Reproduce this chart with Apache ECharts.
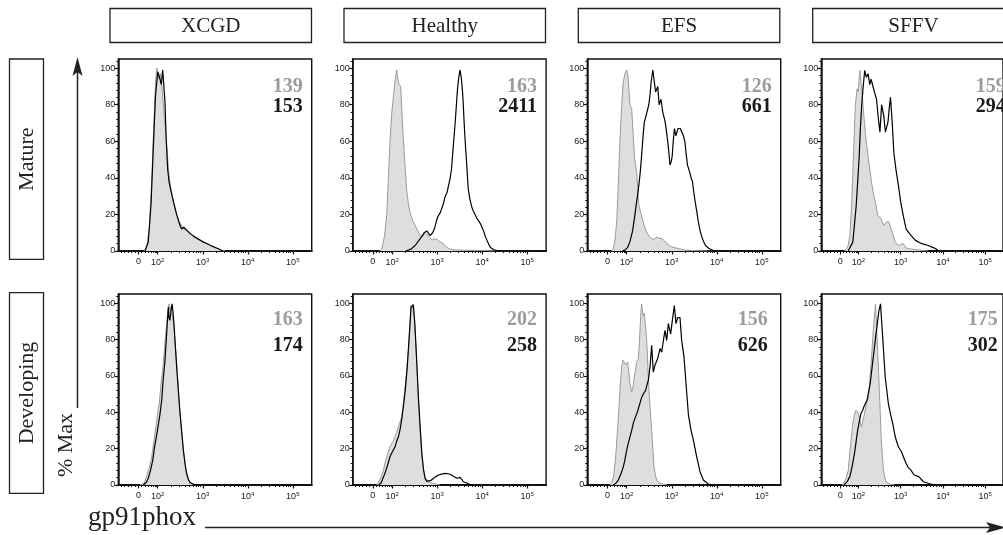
<!DOCTYPE html>
<html>
<head>
<meta charset="utf-8">
<script src="https://cdn.jsdelivr.net/npm/echarts@6/dist/echarts.min.js"></script>
<style>
html, body { margin: 0; padding: 0; background: #fff; }
#draw { width: 1003px; height: 535px; }
</style>
</head>
<body>
<div id="draw"></div>
<script>
// flow histograms, gp91phox, x in display decades (2 = 10^2, 1.57 = 0)
var columns = ['XCGD', 'Healthy', 'EFS', 'SFFV'];
var rows = ['Mature', 'Developing'];
var grayMfi = [[139, 163, 126, 159], [163, 202, 156, 175]];
var blackMfi = [[153, 2411, 661, 294], [174, 258, 626, 302]];
var xTickValues = [1.57, 2, 3, 4, 5];
var xTickLabels = ['0', '{b|10}{s|2}', '{b|10}{s|3}', '{b|10}{s|4}', '{b|10}{s|5}'];
var xZeroTicks = [1.18, 1.26, 1.34, 1.42, 1.5, 1.64, 1.72, 1.79, 1.85, 1.9, 1.94, 1.97];
var yTickValues = [0, 20, 40, 60, 80, 100];

var matureXcgdGray = [[1.70,0],[1.76,3],[1.81,12],[1.86,35],[1.91,68],[1.95,92],[1.98,100],[2.02,94],[2.06,97],[2.10,88],[2.15,72],[2.20,58],[2.24,44],[2.28,36],[2.33,29],[2.40,21],[2.48,16],[2.58,12],[2.70,10],[2.82,8],[2.95,6],[3.10,4],[3.25,2],[3.40,0.6],[3.50,0]];
var matureXcgdBlack = [[1.72,0],[1.79,5],[1.85,25],[1.90,55],[1.95,85],[2.00,98],[2.04,95],[2.08,91],[2.11,99],[2.13,100],[2.16,82],[2.19,60],[2.22,45],[2.25,38],[2.28,37],[2.32,30],[2.37,25],[2.42,20],[2.48,15],[2.53,12],[2.58,13],[2.62,13.5],[2.66,11],[2.72,9.5],[2.80,8],[2.90,6.5],[3.00,5],[3.10,4],[3.22,2.5],[3.32,1.5],[3.45,0]];
var matureHealthyGray = [[1.72,0],[1.77,1],[1.83,8],[1.88,20],[1.92,42],[1.955,61],[1.99,75],[2.03,85],[2.07,94],[2.10,99],[2.14,92],[2.16,91],[2.19,90],[2.22,75],[2.25,61],[2.29,45],[2.32,34],[2.36,26],[2.40,21],[2.45,17],[2.51,14],[2.57,11],[2.62,8.5],[2.68,8],[2.73,10],[2.77,10],[2.82,8],[2.88,6],[2.94,6.5],[2.99,6.7],[3.06,5],[3.14,4],[3.21,2],[3.30,1],[3.44,0.5],[4.0,0.3],[4.3,0]];
var matureHealthyBlack = [[2.30,0],[2.42,1],[2.51,3],[2.60,6],[2.66,8],[2.71,10],[2.77,11],[2.80,10],[2.84,8.5],[2.90,10],[2.95,13],[2.99,17],[3.03,19.5],[3.07,21],[3.10,21],[3.14,26],[3.18,30],[3.22,32],[3.25,33],[3.29,40],[3.32,45],[3.36,58],[3.40,70],[3.45,88],[3.48,95],[3.51,99],[3.54,94],[3.57,85],[3.60,70],[3.62,61],[3.66,46],[3.69,34],[3.73,28],[3.77,24],[3.80,22],[3.84,21],[3.88,18],[3.92,16.5],[3.96,15],[3.99,14],[4.03,11],[4.07,8],[4.12,5],[4.18,2],[4.25,0.8],[4.35,0]];
var matureEfsGray = [[1.65,0],[1.70,1],[1.74,6],[1.78,17],[1.81,35],[1.85,61],[1.89,80],[1.92,92],[1.96,97],[2.00,99],[2.03,95],[2.07,80],[2.11,78],[2.14,65],[2.17,52],[2.20,46],[2.22,43],[2.25,32],[2.27,25],[2.31,21],[2.35,17.5],[2.40,13],[2.44,10.4],[2.50,8],[2.55,6.7],[2.61,6.5],[2.67,7.6],[2.72,7],[2.78,6.7],[2.84,5.5],[2.89,4],[2.95,3],[3.00,2.2],[3.15,1.3],[3.30,0.5],[3.5,0.2],[3.8,0]];
var matureEfsBlack = [[1.90,0],[1.96,0.5],[2.02,2],[2.07,5],[2.13,11],[2.18,19.5],[2.22,27],[2.26,34],[2.30,43],[2.33,52],[2.36,62],[2.39,70.5],[2.44,75],[2.49,80],[2.52,86],[2.54,92],[2.58,99],[2.61,93],[2.64,87],[2.67,88],[2.69,90],[2.72,80],[2.76,83],[2.80,76],[2.85,71],[2.88,66],[2.91,60],[2.94,53],[2.96,47],[2.99,49],[3.01,52],[3.04,62],[3.06,67],[3.09,63],[3.11,64],[3.14,67],[3.16,68],[3.19,67],[3.22,66],[3.26,63],[3.29,60],[3.32,53],[3.35,47],[3.40,43],[3.43,40],[3.46,38],[3.49,32],[3.52,27],[3.56,21],[3.59,16],[3.63,11],[3.67,7.6],[3.71,5],[3.75,3],[3.82,1.5],[3.89,0.7],[3.96,0]];
var matureSffvGray = [[1.68,0],[1.72,0.5],[1.76,3],[1.80,8.5],[1.84,25],[1.87,43],[1.90,62],[1.93,80],[1.97,88.7],[2.00,87],[2.02,95],[2.035,98.7],[2.06,93],[2.08,88.7],[2.13,74],[2.18,61],[2.24,50],[2.30,39.5],[2.35,32],[2.40,27],[2.46,19.5],[2.50,18.5],[2.54,17.7],[2.60,14],[2.64,15],[2.67,16],[2.72,16],[2.75,15],[2.80,10.4],[2.87,5],[2.95,3],[3.0,3.5],[3.06,4],[3.13,1.6],[3.25,1],[3.35,0.8],[3.5,0.4],[3.65,0]];
var matureSffvBlack = [[1.76,0],[1.80,0.5],[1.87,5],[1.91,15],[1.95,25],[1.99,40],[2.02,52],[2.05,68],[2.08,80],[2.11,88.7],[2.15,98.7],[2.19,95],[2.23,97],[2.27,91],[2.30,94],[2.34,90.5],[2.38,87],[2.43,83],[2.47,73],[2.51,65],[2.55,80],[2.60,74],[2.64,65],[2.70,70.5],[2.73,78],[2.76,84],[2.80,70.5],[2.84,53.6],[2.89,44.4],[2.95,35.5],[3.00,27],[3.06,19.5],[3.13,12],[3.21,9.5],[3.28,7.6],[3.35,5.8],[3.50,4],[3.65,3],[3.80,1.6],[3.91,0]];

var devXcgdGray = [[1.60,0],[1.70,1],[1.75,4.6],[1.82,10],[1.865,15.5],[1.92,25],[1.96,32],[2.00,40],[2.035,45],[2.07,55],[2.11,63],[2.16,78],[2.19,87],[2.22,94],[2.25,99.6],[2.27,96],[2.30,98],[2.32,97],[2.36,87],[2.42,66.7],[2.49,41],[2.53,29],[2.57,19],[2.63,8],[2.70,1.8],[2.79,0]];
var devXcgdBlack = [[1.68,0],[1.75,1.5],[1.79,3.7],[1.84,8],[1.89,13.7],[1.93,21],[1.98,28],[2.05,39],[2.09,47],[2.12,57.6],[2.16,68],[2.18,76],[2.21,88],[2.235,97.8],[2.25,92],[2.27,90.5],[2.30,97],[2.317,99.6],[2.34,95],[2.36,88.7],[2.42,65],[2.49,41],[2.53,30],[2.57,19],[2.61,11],[2.64,6.4],[2.68,3],[2.72,1.3],[2.83,0]];
var devHealthyGray = [[1.66,0],[1.69,0.5],[1.75,4],[1.805,8],[1.85,13],[1.88,15.5],[1.95,21],[2.02,24],[2.065,26.5],[2.10,29],[2.14,32],[2.18,35],[2.21,37.5],[2.25,45],[2.29,54],[2.33,65],[2.36,74],[2.39,85],[2.42,98.7],[2.45,97],[2.47,99.6],[2.50,90],[2.52,81],[2.55,65],[2.58,48],[2.62,30],[2.66,15.5],[2.70,8],[2.73,4.6],[2.80,1.8],[2.92,0.8],[3.06,0]];
var devHealthyBlack = [[1.70,0],[1.75,1],[1.80,4],[1.84,6.4],[1.90,11],[1.95,15.5],[2.00,18],[2.065,21],[2.10,24],[2.14,26.5],[2.18,31],[2.21,35.6],[2.25,43],[2.29,52],[2.33,63],[2.36,74],[2.39,86],[2.42,97.8],[2.45,97],[2.47,99],[2.50,90],[2.52,81],[2.55,66],[2.58,50],[2.62,33],[2.66,17.4],[2.70,8],[2.73,3.7],[2.77,2],[2.81,1.8],[2.86,2.5],[2.92,3.7],[2.97,4.6],[3.03,5.5],[3.10,6],[3.18,6.4],[3.25,6.2],[3.32,5.5],[3.38,4.5],[3.44,3.7],[3.48,3.8],[3.51,4.2],[3.55,3],[3.58,1.8],[3.64,1.2],[3.69,0.7],[3.77,0]];
var devEfsGray = [[1.62,0],[1.665,1],[1.71,5],[1.754,15.5],[1.79,28],[1.828,43],[1.86,56],[1.887,65],[1.92,68.6],[1.94,68],[1.976,66],[2.00,67],[2.02,67.6],[2.05,61],[2.072,55.8],[2.11,51],[2.14,54],[2.168,59.4],[2.20,64],[2.22,67.6],[2.257,69.5],[2.28,78],[2.294,85],[2.315,95],[2.331,99.6],[2.35,96],[2.368,93],[2.39,94.5],[2.405,94],[2.425,85],[2.443,79.5],[2.47,65],[2.494,52],[2.52,42],[2.554,30],[2.58,20],[2.605,10],[2.64,5],[2.665,2.7],[2.72,1],[2.76,0.5],[2.9,0]];
var devEfsBlack = [[1.70,0],[1.76,1],[1.813,2.7],[1.87,6],[1.924,10],[1.96,14],[1.998,19],[2.035,23],[2.072,26.5],[2.11,30],[2.146,34],[2.18,36.5],[2.22,39],[2.26,42],[2.294,45],[2.33,48],[2.368,50],[2.42,52],[2.45,55],[2.48,57.6],[2.517,65],[2.554,76.8],[2.59,62],[2.628,66],[2.687,69.5],[2.739,75],[2.776,73],[2.82,80.4],[2.85,85],[2.887,79.5],[2.924,88.7],[2.976,83],[3.013,90.5],[3.057,98.7],[3.094,88.7],[3.13,92],[3.183,92],[3.22,79.5],[3.272,70.4],[3.317,55.8],[3.368,39],[3.428,30],[3.48,24.7],[3.554,15.5],[3.628,7.3],[3.702,2.7],[3.813,0.5],[3.924,0]];
var devSffvGray = [[1.62,0],[1.65,0.5],[1.70,3],[1.761,8],[1.80,18],[1.835,26.5],[1.87,34],[1.909,39],[1.94,41],[1.968,41],[1.99,40],[2.02,39],[2.05,34],[2.072,32],[2.10,35],[2.131,37.5],[2.16,41],[2.19,45],[2.243,48.4],[2.302,66.7],[2.354,85],[2.38,93],[2.406,99.6],[2.443,81],[2.487,57.6],[2.539,26.5],[2.591,8],[2.65,1.8],[2.74,0.5],[2.85,0]];
var devSffvBlack = [[1.66,0],[1.687,0.5],[1.74,2],[1.798,4.6],[1.85,10],[1.909,17.4],[1.983,30],[2.057,39],[2.10,41],[2.131,43],[2.205,46.6],[2.28,55.8],[2.354,70.4],[2.428,85],[2.487,96],[2.524,99.6],[2.576,81],[2.635,59.4],[2.709,44.8],[2.761,39],[2.813,33.8],[2.872,26.5],[2.946,21],[3.02,18.3],[3.094,13.7],[3.168,10],[3.243,8.2],[3.317,5.5],[3.428,4.6],[3.539,1.8],[3.687,0.7],[3.835,0]];

var panels = [
	[[matureXcgdGray, matureXcgdBlack], [matureHealthyGray, matureHealthyBlack], [matureEfsGray, matureEfsBlack], [matureSffvGray, matureSffvBlack]],
	[[devXcgdGray, devXcgdBlack], [devHealthyGray, devHealthyBlack], [devEfsGray, devEfsBlack], [devSffvGray, devSffvBlack]]
];

// layout
var colLeft = [118.3, 352.7, 587.3, 821.3];
var plotW = 193.4;
var rowTop = [59, 294];
var plotH = [192, 191];
var numY = [[27.5, 48], [26, 52]];
var numRight = [[9, 9, 9, 9], [9, 9, 13, 17]];
var serif = '"Liberation Serif", "Times New Roman", serif';
var sans = '"Liberation Sans", Arial, sans-serif';

var xMinor = xZeroTicks.slice();
[2, 3, 4].forEach(function(n) {
	for (var k = 2; k <= 9; k++) xMinor.push(n + Math.log10(k));
});
var yMinor = [];
for (var v = 4; v < 105; v += 4) if (v % 20 !== 0) yMinor.push(v);

var grids = [], xAxes = [], yAxes = [], series = [], graphics = [];

rows.forEach(function(rowName, r) {
	columns.forEach(function(colName, c) {
		var g = grids.length;
		grids.push({
			left: colLeft[c], top: rowTop[r], width: plotW, height: plotH[r],
			show: true, borderColor: '#111', borderWidth: 1.4, containLabel: false
		});
		xAxes.push({
			type: 'value', gridIndex: g, position: 'bottom', min: 1.124, max: 5.42,
			axisLine: { show: true, onZero: false, lineStyle: { color: '#111', width: 2 } },
			axisTick: { show: true, customValues: xTickValues, length: 3.5, lineStyle: { color: '#111', width: 1.2 } },
			axisLabel: {
				show: true, customValues: xTickValues, margin: 6, color: '#222',
				fontSize: 9, fontFamily: sans,
				formatter: function(val) {
					for (var i = 0; i < xTickValues.length; i++) {
						if (Math.abs(xTickValues[i] - val) < 1e-6) return xTickLabels[i];
					}
					return '';
				},
				rich: {
					b: { fontSize: 9, lineHeight: 12, fontFamily: sans, color: '#222' },
					s: { fontSize: 6, lineHeight: 7, verticalAlign: 'top', fontFamily: sans, color: '#222' }
				}
			},
			splitLine: { show: false }
		});
		xAxes.push({
			type: 'value', gridIndex: g, position: 'bottom', min: 1.124, max: 5.42,
			axisLine: { show: false },
			axisTick: { show: true, customValues: xMinor, length: 2, lineStyle: { color: '#111', width: 1 } },
			axisLabel: { show: false },
			splitLine: { show: false }
		});
		yAxes.push({
			type: 'value', gridIndex: g, position: 'left', min: 0, max: 105,
			axisLine: { show: true, lineStyle: { color: '#111', width: 1.5 } },
			axisTick: { show: true, customValues: yTickValues, length: 3.5, lineStyle: { color: '#111', width: 1.2 } },
			axisLabel: { show: true, customValues: yTickValues, margin: 3, fontSize: 9, fontFamily: sans, color: '#222' },
			splitLine: { show: false }
		});
		yAxes.push({
			type: 'value', gridIndex: g, position: 'left', min: 0, max: 105,
			axisLine: { show: false },
			axisTick: { show: true, customValues: yMinor, length: 2, lineStyle: { color: '#111', width: 1 } },
			axisLabel: { show: false },
			splitLine: { show: false }
		});
		series.push({
			type: 'line', xAxisIndex: 2 * g, yAxisIndex: 2 * g,
			data: panels[r][c][0], symbol: 'none', silent: true, z: 2,
			lineStyle: { color: '#9a9a9a', width: 1 },
			areaStyle: { color: '#dedede', opacity: 1 }
		});
		series.push({
			type: 'line', xAxisIndex: 2 * g, yAxisIndex: 2 * g,
			data: panels[r][c][1], symbol: 'none', silent: true, z: 3,
			lineStyle: { color: '#000', width: 1.2 }
		});
		var right = colLeft[c] + plotW - numRight[r][c];
		graphics.push({
			type: 'text', x: right, y: rowTop[r] + numY[r][0], z: 10,
			style: { text: String(grayMfi[r][c]), font: 'bold 20px ' + serif, fill: '#9c9c9c', textAlign: 'right', textVerticalAlign: 'middle' }
		});
		graphics.push({
			type: 'text', x: right, y: rowTop[r] + numY[r][1], z: 10,
			style: { text: String(blackMfi[r][c]), font: 'bold 20px ' + serif, fill: '#1a1a1a', textAlign: 'right', textVerticalAlign: 'middle' }
		});
	});
});

// column headers
var headLeft = [110, 344, 578.3, 812.7];
columns.forEach(function(name, c) {
	graphics.push({
		type: 'rect', shape: { x: headLeft[c], y: 8.5, width: 201.5, height: 34 },
		style: { fill: '#fff', stroke: '#222', lineWidth: 1.3 }
	});
	graphics.push({
		type: 'text', x: headLeft[c] + 100.75, y: 26,
		style: { text: name, font: '21px ' + serif, fill: '#222', textAlign: 'center', textVerticalAlign: 'middle' }
	});
});

// row headers
var rowBoxTop = [59, 292.7];
var rowBoxH = [200.3, 200.6];
rows.forEach(function(name, r) {
	graphics.push({
		type: 'rect', shape: { x: 9.5, y: rowBoxTop[r], width: 34, height: rowBoxH[r] },
		style: { fill: '#fff', stroke: '#222', lineWidth: 1.3 }
	});
	graphics.push({
		type: 'text', x: 27, y: rowBoxTop[r] + rowBoxH[r] / 2, rotation: Math.PI / 2,
		style: { text: name, font: '22px ' + serif, fill: '#222', textAlign: 'center', textVerticalAlign: 'middle' }
	});
});

// axis arrows and titles
graphics.push({ type: 'line', shape: { x1: 77.5, y1: 72, x2: 77.5, y2: 408 }, style: { stroke: '#222', lineWidth: 1.5 } });
graphics.push({ type: 'polygon', shape: { points: [[77.5, 57], [72.5, 76], [77.5, 72], [82.5, 76]] }, style: { fill: '#222' } });
graphics.push({
	type: 'text', x: 66.5, y: 445, rotation: Math.PI / 2,
	style: { text: '% Max', font: '22px ' + serif, fill: '#222', textAlign: 'center', textVerticalAlign: 'middle' }
});
graphics.push({ type: 'line', shape: { x1: 205, y1: 527.5, x2: 992, y2: 527.5 }, style: { stroke: '#222', lineWidth: 1.5 } });
graphics.push({ type: 'polygon', shape: { points: [[1006, 527.5], [986, 522], [990, 527.5], [986, 533]] }, style: { fill: '#222' } });
graphics.push({
	type: 'text', x: 88, y: 518,
	style: { text: 'gp91phox', font: '27px ' + serif, fill: '#222', textAlign: 'left', textVerticalAlign: 'middle' }
});

var myChart = echarts.init(document.getElementById('draw'));
var option = {
	animation: false,
	backgroundColor: '#fff',
	grid: grids,
	xAxis: xAxes,
	yAxis: yAxes,
	series: series,
	graphic: graphics
};
myChart.setOption(option);
</script>
</body>
</html>
